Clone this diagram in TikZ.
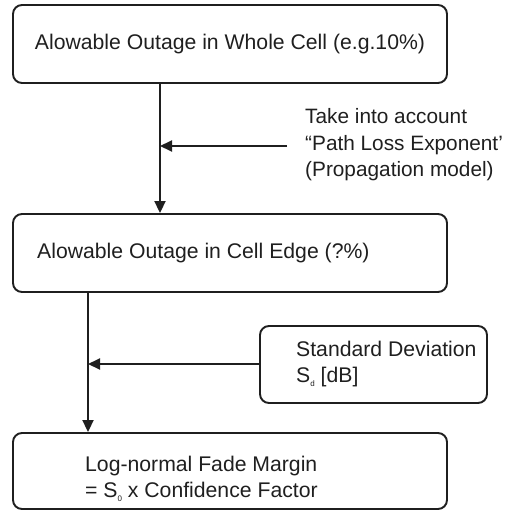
\documentclass[tikz,border=0pt]{standalone}
\usepackage{fontspec}
\setmainfont{Liberation Sans}
\usetikzlibrary{arrows.meta}
\newcommand{\subtiny}[1]{\raisebox{-0.35ex}{\fontsize{8}{8}\selectfont #1}}
\begin{document}
\begin{tikzpicture}[x=1pt,y=-1pt,
  box/.style={draw=black!88, line width=1.9pt, rounded corners=9pt, minimum width=#1, inner sep=0pt},
  box/.default=434pt,
  txt/.style={anchor=west, inner sep=0pt, align=left, text=black!88, font=\fontsize{21.2}{26.5}\selectfont},
  flow/.style={draw=black!88, line width=1.9pt, -{Triangle[length=12pt,width=11pt]}}]
  \useasboundingbox (0,0) rectangle (507,511);
  % main chain of boxes
  \node[box, minimum height=78pt] (whole) at (230,44) {};
  \node[box, minimum height=78pt] (edge) at (230,253) {};
  \node[box=227pt, minimum height=77pt] (sd) at (373.5,364.5) {};
  \node[box, minimum height=76pt] (margin) at (230,471) {};
  % texts
  \node[txt, anchor=center] (twhole) at (230,44) {Alowable Outage in Whole Cell (e.g.10\%)};
  \node[txt] (tedge) at (37,253) {Alowable Outage in Cell Edge (?\%)};
  \node[txt, font=\fontsize{20.8}{26.5}\selectfont] (tple) at (305,145) {Take into account\\``Path Loss Exponent'\\(Propagation model)};
  \node[txt] (tsd) at (296,364) {Standard Deviation\\S\subtiny{d} [dB]};
  \node[txt] (tmargin) at (85,479) {Log-normal Fade Margin\\= S\subtiny{0} x Confidence Factor};
  % connectors
  \coordinate (ja) at (160,146);
  \coordinate (pa) at (287,146);
  \coordinate (jb) at (88,364);
  \draw[flow] (whole.south -| ja) -- (edge.north -| ja);
  \draw[flow] (pa) -- (ja);
  \draw[flow] (edge.south -| jb) -- (margin.north -| jb);
  \draw[flow] (sd.west |- jb) -- (jb);
\end{tikzpicture}
\end{document}
